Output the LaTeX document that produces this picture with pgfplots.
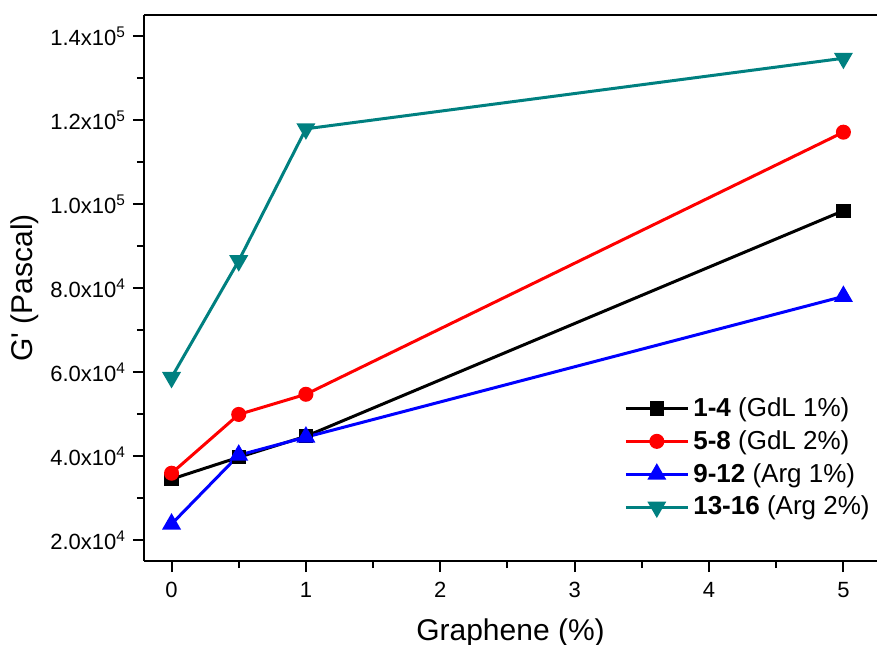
\documentclass[border=0pt]{standalone}
\usepackage{fontspec}
\setmainfont{Liberation Sans}
\usepackage{pgfplots}
\pgfplotsset{compat=1.18}
\definecolor{tealc}{RGB}{0,128,128}
\begin{document}
\begin{tikzpicture}
\begin{axis}[
    name=ax,
    scale only axis,
    width=366.5pt, height=273pt,
    xmin=-0.205, xmax=5.25,
    ymin=15000, ymax=145000,
    axis x line*=box, axis y line*=left,
    xtick pos=bottom, ytick pos=left,
    tick align=outside,
    major tick length=5.5pt, minor tick length=3.5pt,
    xtick={0,1,2,3,4,5},
    minor xtick={0.5,1.5,2.5,3.5,4.5},
    ytick={20000,40000,60000,80000,100000,120000,140000},
    minor ytick={30000,50000,70000,90000,110000,130000},
    yticklabels={2.0x10\textsuperscript{4},4.0x10\textsuperscript{4},6.0x10\textsuperscript{4},8.0x10\textsuperscript{4},1.0x10\textsuperscript{5},1.2x10\textsuperscript{5},1.4x10\textsuperscript{5}},
    scaled y ticks=false,
    /pgf/number format/assume math mode=true,
    tick label style={font=\fontsize{11}{13}\selectfont},
    xticklabel style={yshift=-1.5pt},
    xlabel={Graphene (\%)},
    ylabel={G\textquotesingle{} (Pascal)},
    label style={font=\fontsize{15}{17}\selectfont},
    xlabel style={at={(axis description cs:0.5,0)}, anchor=center, yshift=-36pt},
    ylabel style={at={(axis description cs:-0.163,0.5)}, anchor=center},
    axis line style={line width=1pt},
    every tick/.style={line width=1pt, black},
    legend style={draw=none, fill=none, at={(0.652,0.311)}, anchor=north west,
        font=\fontsize{13}{15}\selectfont, row sep=1.5pt, inner sep=1pt},
    legend cell align=left,
    legend image code/.code={
        \draw[mark repeat=2, mark phase=2, #1] plot coordinates {(0pt,0pt) (15.5pt,0pt) (31pt,0pt)};
    },
    every axis plot/.append style={line width=1.5pt},
]
\addplot[color=black, mark=square*, mark size=2.8pt, mark options={solid}]
    coordinates {(0,34500) (0.5,39700) (1,44700) (5,98400)};
\addlegendentry{\textbf{1-4} (GdL 1\%)}
\addplot[color=red, mark=*, mark size=3pt]
    coordinates {(0,35900) (0.5,49900) (1,54700) (5,117100)};
\addlegendentry{\textbf{5-8} (GdL 2\%)}
\addplot[color=blue, mark=triangle*, mark size=4pt]
    coordinates {(0,23800) (0.5,40200) (1,44500) (5,78000)};
\addlegendentry{\textbf{9-12} (Arg 1\%)}
\addplot[color=tealc, mark=triangle*, mark size=4pt, mark options={rotate=180}]
    coordinates {(0,58700) (0.5,86500) (1,117900) (5,134700)};
\addlegendentry{\textbf{13-16} (Arg 2\%)}
\end{axis}
\pgfresetboundingbox
\path ([shift={(-72pt,-41.5pt)}]ax.south west) rectangle ([yshift=7.5pt]ax.north east);
\end{tikzpicture}
\end{document}
